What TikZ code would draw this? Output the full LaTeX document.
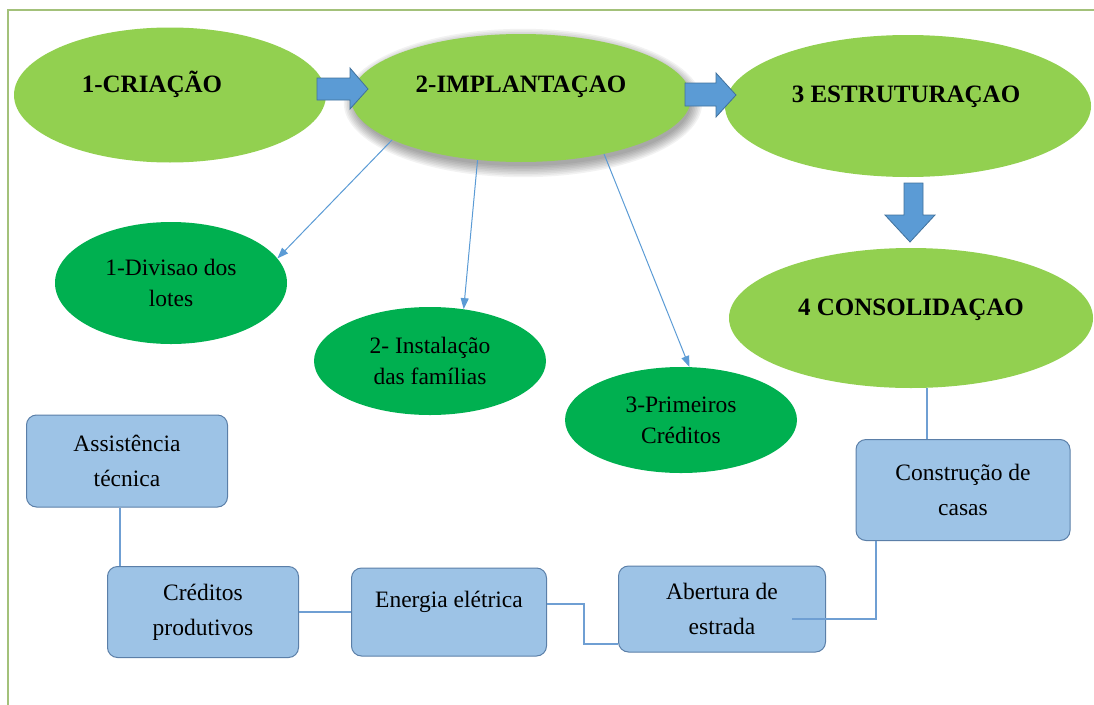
\documentclass[tikz,border=0pt]{standalone}
\usepackage{fontspec}
\setmainfont{Liberation Serif}
\usetikzlibrary{shapes.geometric,arrows.meta,positioning}

\definecolor{lightgreen}{HTML}{92D050}
\definecolor{darkgreen}{HTML}{00B050}
\definecolor{arrowblue}{HTML}{5B9BD5}
\definecolor{arrowedge}{HTML}{41719C}
\definecolor{boxblue}{HTML}{9DC3E6}
\definecolor{boxedge}{HTML}{5B7FA8}
\definecolor{linkblue}{HTML}{6F9FD3}
\definecolor{framegreen}{HTML}{A3C17A}

\begin{document}
\begin{tikzpicture}[x=1pt,y=-1pt,
  phase/.style={ellipse,fill=lightgreen,inner sep=0pt},
  phasetext/.style={anchor=base,inner sep=0pt,font=\fontsize{25}{30}\selectfont\bfseries},
  substep/.style={ellipse,fill=darkgreen,inner sep=0pt,minimum width=232pt,align=center,
    font=\fontsize{23.5}{31}\selectfont},
  action/.style={rectangle,rounded corners=10pt,draw=boxedge,line width=1pt,fill=boxblue,
    inner sep=0pt,align=center,font=\fontsize{23.5}{35}\selectfont},
  bigarrow/.style={fill=arrowblue,draw=arrowedge,line width=0.8pt},
  branch/.style={draw=arrowblue,line width=1pt,-{Triangle[length=11pt,width=8pt]}},
  link/.style={draw=linkblue,line width=1.5pt}]
  \path[use as bounding box,clip] (0,0) rectangle (1094,704);
  \draw[framegreen,line width=1.5pt] (8,10) rectangle (1110,720);

  % shadow of the second phase
  \coordinate (c2) at (521,98);
  \foreach \k in {0,...,7}
    \fill[black,opacity=0.05] ([xshift=2pt,yshift=-5pt]c2) ellipse [x radius={168pt+\k*1.6pt}, y radius={63pt+\k*1.6pt}];

  % phases
  \node[phase,minimum width=312pt,minimum height=135pt] (e1) at (170,95) {};
  \node[phase,minimum width=340pt,minimum height=128pt] (e2) at (c2) {};
  \node[phase,minimum width=366pt,minimum height=142pt] (e3) at (908,106) {};
  \node[phase,minimum width=364pt,minimum height=140pt] (e4) at (911,318) {};
  \node[phasetext] (t1) at ([xshift=-18pt,yshift=3pt]e1.center) {1-CRIAÇÃO};
  \node[phasetext] (t2) at ([yshift=6pt]e2.center) {2-IMPLANTAÇAO};
  \node[phasetext] (t3) at ([xshift=-2pt,yshift=4pt]e3.center) {3 ESTRUTURAÇAO};
  \node[phasetext] (t4) at ([yshift=3pt]e4.center) {4 CONSOLIDAÇAO};

  % block arrows
  \filldraw[bigarrow] (317,78) -- (350,78) -- (350,68) -- (368,89) -- (350,109) -- (350,100) -- (317,100) -- cycle;
  \filldraw[bigarrow] (685,83) -- (716,83) -- (716,73) -- (736,95) -- (716,117) -- (716,106) -- (685,106) -- cycle;
  \filldraw[bigarrow] (904,183) -- (923,183) -- (923,215) -- (935,215) -- (910,242) -- (885,215) -- (904,215) -- cycle;

  % steps of the implantation
  \node[substep,minimum height=122pt] (d1) at (171,283) {1-Divisao dos\\lotes};
  \node[substep,minimum height=108pt] (d2) at (430,361) {2- Instalação\\das famílias};
  \node[substep,minimum height=106pt] (d3) at (681,420) {3-Primeiros\\Créditos};
  \draw[branch] (e2.198) -- (d1.13);
  \draw[branch] (e2.235) -- (d2.57);
  \draw[branch] (e2.326) -- (d3.81);

  % actions of the consolidation
  \node[action,minimum width=201pt,minimum height=92pt] (b1) at (127,461) {Assistência\\técnica};
  \node[action,minimum width=191pt,minimum height=91pt] (b2) at (203,612) {Créditos\\produtivos};
  \node[action,minimum width=195pt,minimum height=88pt,text depth=25pt] (b3) at (449,612) {Energia elétrica};
  \node[action,minimum width=207pt,minimum height=86pt] (b4) at (722,609) {Abertura de\\estrada};
  \node[action,minimum width=214pt,minimum height=101pt] (b5) at (963,490) {Construção de\\casas};

  \draw[link] ([xshift=-36pt]b5.north) -- ([xshift=-36pt]b5.north |- e4.south);
  \draw[link] ([xshift=-7pt]b1.south) -- ([xshift=-7pt]b1.south |- b2.north);
  \draw[link] (b2.east) -- (b3.west);
  \draw[link] ([yshift=8pt]b3.east) -- ++(37,0) |- ([yshift=-35pt]b4.west);
  \draw[link] ([xshift=70pt,yshift=-10pt]b4.center) -| ([xshift=-87pt]b5.south);
\end{tikzpicture}
\end{document}
